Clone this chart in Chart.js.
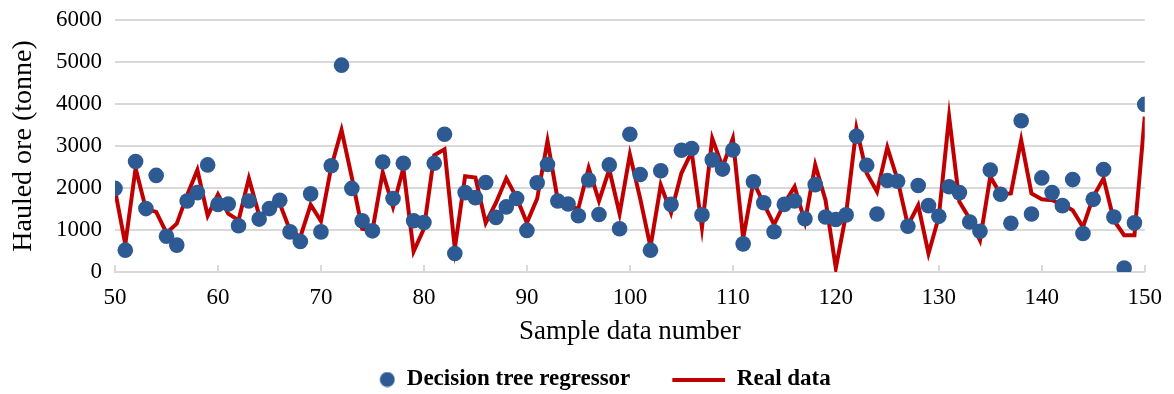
<!DOCTYPE html>
<html>
<head>
<meta charset="utf-8">
<script src="https://cdn.jsdelivr.net/npm/chart.js@4.4.1/dist/chart.umd.min.js"></script>
<style>
  html, body { margin: 0; padding: 0; background: #fff; }
  #wrap { width: 1174px; height: 394px; }
</style>
</head>
<body>
<div id="wrap"><canvas id="chart" width="1174" height="394"></canvas></div>
<script>
// sample numbers 50..150
const firstSample = 50;
const lastSample = 150;

// decision tree regressor predictions (dots)
const predicted = [
  1990, 520, 2630, 1510, 2300, 850, 640, 1690, 1890, 2550,
  1610, 1620, 1100, 1690, 1260, 1510, 1710, 955, 725, 1860,
  955, 2530, 4925, 1990, 1220, 980, 2620, 1750, 2590, 1220,
  1180, 2590, 3280, 440, 1890, 1770, 2130, 1300, 1550, 1750,
  990, 2125, 2560, 1690, 1620, 1340, 2190, 1370, 2550, 1030,
  3280, 2320, 520, 2410, 1610, 2900, 2940, 1360, 2670, 2450,
  2905, 670, 2150, 1650, 960, 1610, 1690, 1270, 2080, 1310,
  1250, 1360, 3230, 2540, 1380, 2180, 2160, 1090, 2060, 1580,
  1325, 2030, 1890, 1190, 970, 2430, 1850, 1160, 3600, 1380,
  2240, 1890, 1580, 2200, 915, 1730, 2440, 1310, 95, 1170,
  3990
];

// real hauled ore (line)
const realData = [
  1950, 660, 2470, 1500, 1430, 930, 1150, 1830, 2430, 1340,
  1850, 1390, 1230, 2230, 1350, 1470, 1630, 990, 835, 1600,
  1210, 2500, 3380, 2250, 1030, 990, 2370, 1550, 2470, 490,
  1030, 2780, 2920, 560, 2280, 2250, 1170, 1650, 2230, 1770,
  1170, 1750, 3120, 1710, 1550, 1510, 2480, 1690, 2440, 1390,
  2800, 1750, 600, 2070, 1410, 2350, 2860, 1060, 3180, 2500,
  3180, 800, 2150, 1630, 1130, 1630, 2030, 1190, 2550, 1710,
  95, 1390, 3420, 2350, 1910, 2970, 2190, 1110, 1590, 440,
  1310, 3700, 1670, 1270, 755, 2270, 1850, 1870, 3140, 1870,
  1730, 1710, 1610, 1470, 1070, 1790, 2230, 1230, 875, 875,
  3700
];

const xTicks = [50, 60, 70, 80, 90, 100, 110, 120, 130, 140, 150];
const yTicks = [0, 1000, 2000, 3000, 4000, 5000, 6000];

const dotColor = '#2E5A94';
const lineColor = '#C00000';
const gridColor = '#D9D9D9';
const serif = "'Liberation Serif', 'Times New Roman', serif";

const samples = [];
for (let s = firstSample; s <= lastSample; s++) samples.push(s);

const predPoints = samples.map((s, i) => ({ x: s, y: predicted[i] }));
const realPoints = samples.map((s, i) => ({ x: s, y: realData[i] }));

// little canvases used as legend symbols (same width, symbol on the right)
function legendDot() {
  const c = document.createElement('canvas');
  c.width = 75; c.height = 16;
  const g = c.getContext('2d');
  g.fillStyle = dotColor;
  g.beginPath();
  g.arc(67, 8, 7.5, 0, Math.PI * 2);
  g.fill();
  return c;
}
function legendLine() {
  const c = document.createElement('canvas');
  c.width = 75; c.height = 4;
  const g = c.getContext('2d');
  g.fillStyle = lineColor;
  g.fillRect(22, 0, 53, 4);
  return c;
}
const legendIcons = [legendDot(), legendLine()];

// short tick marks pointing up from the x axis
const innerTicks = {
  id: 'innerTicks',
  beforeDatasetsDraw(chart) {
    const xs = chart.scales.x;
    const ctx = chart.ctx;
    const bottom = chart.chartArea.bottom;
    ctx.save();
    ctx.strokeStyle = gridColor;
    ctx.lineWidth = 2;
    xTicks.forEach(v => {
      const px = Math.round(xs.getPixelForValue(v));
      ctx.beginPath();
      ctx.moveTo(px, bottom - 7);
      ctx.lineTo(px, bottom);
      ctx.stroke();
    });
    ctx.restore();
  }
};

new Chart(document.getElementById('chart'), {
  type: 'line',
  data: {
    datasets: [
      {
        label: 'Decision tree regressor',
        data: predPoints,
        showLine: false,
        pointRadius: 7.8,
        pointHoverRadius: 7.8,
        pointBackgroundColor: dotColor,
        pointBorderWidth: 0,
        borderColor: dotColor,
        backgroundColor: dotColor,
        order: 0
      },
      {
        label: 'Real data',
        data: realPoints,
        borderColor: lineColor,
        backgroundColor: lineColor,
        borderWidth: 4,
        pointRadius: 0,
        tension: 0,
        order: 1
      }
    ]
  },
  options: {
    responsive: false,
    animation: false,
    layout: { padding: { left: 0, right: 23, top: 20, bottom: 0 } },
    plugins: {
      tooltip: { enabled: false },
      legend: {
        position: 'bottom',
        maxHeight: 46,
        labels: {
          usePointStyle: true,
          pointStyleWidth: 75,
          padding: 20,
          color: '#000',
          font: { family: serif, size: 23, weight: 'bold' },
          generateLabels(chart) {
            const items = Chart.defaults.plugins.legend.labels.generateLabels(chart);
            items.forEach(it => { it.pointStyle = legendIcons[it.datasetIndex]; });
            return items;
          }
        }
      }
    },
    scales: {
      x: {
        type: 'linear',
        min: 50,
        max: 150,
        afterBuildTicks(scale) { scale.ticks = xTicks.map(v => ({ value: v })); },
        afterFit(scale) { scale.height = 76; },
        grid: { display: true, drawOnChartArea: false, drawTicks: false, color: gridColor },
        border: { display: true, color: gridColor, width: 2 },
        ticks: {
          padding: 12,
          color: '#000',
          font: { family: serif, size: 23 },
          maxRotation: 0
        },
        title: {
          display: true,
          text: 'Sample data number',
          color: '#000',
          font: { family: serif, size: 27 },
          padding: { top: 4, bottom: 0 }
        }
      },
      y: {
        min: 0,
        max: 6000,
        afterBuildTicks(scale) { scale.ticks = yTicks.map(v => ({ value: v })); },
        afterFit(scale) { scale.width = 115; },
        grid: { color: gridColor, lineWidth: 2, drawTicks: false },
        border: { display: false },
        ticks: {
          padding: 13,
          color: '#000',
          font: { family: serif, size: 23, lineHeight: 0.6 },
          callback: v => String(v)
        },
        title: {
          display: true,
          text: 'Hauled ore (tonne)',
          color: '#000',
          font: { family: serif, size: 28 },
          padding: { top: 7, bottom: 0 }
        }
      }
    }
  },
  plugins: [innerTicks]
});
</script>
</body>
</html>
